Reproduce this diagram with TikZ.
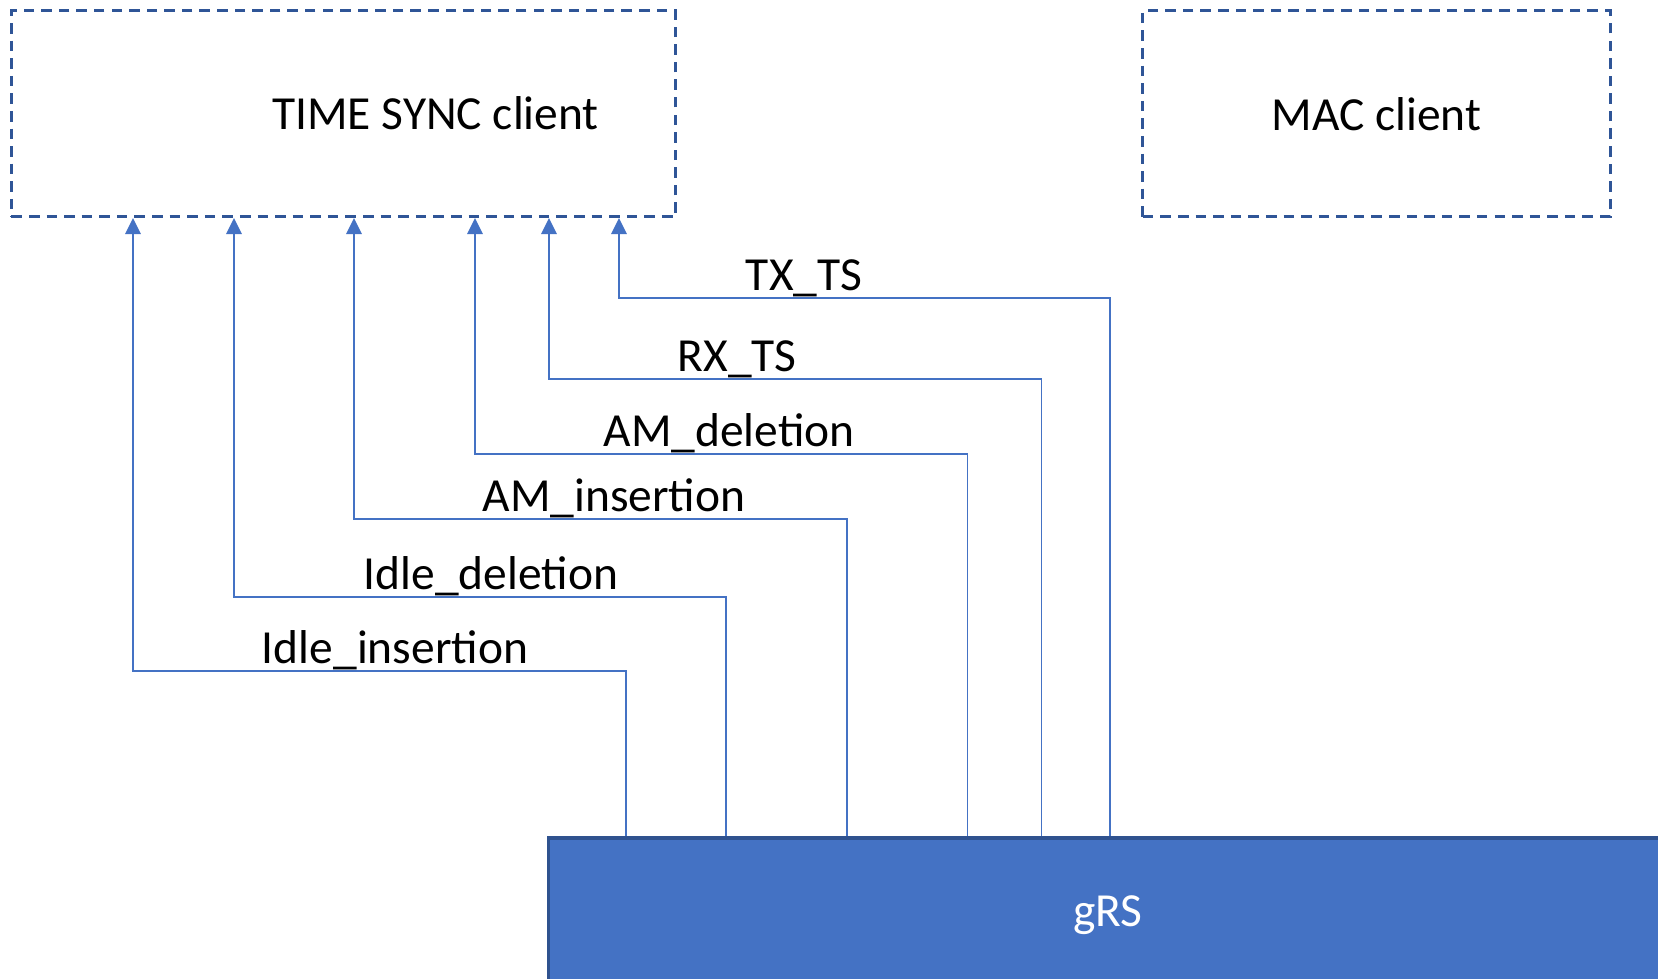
\documentclass[tikz,border=0pt]{standalone}
\usepackage{fontspec}
\setmainfont{Carlito}
\usetikzlibrary{arrows.meta}
\definecolor{lineblue}{HTML}{4472C4}
\definecolor{dashblue}{HTML}{2F5597}
\definecolor{edgeblue}{HTML}{2F528F}
\tikzset{
  client/.style={draw=dashblue, line width=0.8pt, dash pattern=on 3pt off 2pt,
    minimum height=2.06cm, inner sep=0pt},
  sig/.style={draw=lineblue, line width=0.5pt,
    -{Triangle[width=4.4pt,length=4.5pt]}},
  siglabel/.style={anchor=base, inner sep=0pt}
}
\begin{document}
\begin{tikzpicture}
    \def\x{0.01}
    \def\y{-0.01}
    \fontsize{13.5}{16}\selectfont
    \useasboundingbox (0,0) rectangle (1658*\x, 978*\y);
    % clients and gRS block
    \node (sync) [client, minimum width=6.64cm] at (343.6*\x, 113.7*\y) {};
    \node (synctext) at (435.6*\x, 113*\y) {TIME SYNC client};
    \node (mac) [client, minimum width=4.67cm] at (1376.5*\x, 113.7*\y) {MAC client};
    \node (grs) [fill=lineblue, draw=edgeblue, line width=1pt, text=white,
      minimum width=11.18cm, minimum height=1.54cm] at (1108*\x, 915*\y) {gRS};
    % corners of the signal paths
    \coordinate (K1) at (626*\x, 671*\y);
    \coordinate (C1) at (133*\x, 671*\y);
    \coordinate (K2) at (726*\x, 597*\y);
    \coordinate (C2) at (234*\x, 597*\y);
    \coordinate (K3) at (847*\x, 519*\y);
    \coordinate (C3) at (354*\x, 519*\y);
    \coordinate (K4) at (967.5*\x, 454*\y);
    \coordinate (C4) at (475*\x, 454*\y);
    \coordinate (K5) at (1041.5*\x, 379*\y);
    \coordinate (C5) at (549*\x, 379*\y);
    \coordinate (K6) at (1110*\x, 298*\y);
    \coordinate (C6) at (619*\x, 298*\y);
    \draw [sig] (K1 |- grs.north) -- (K1) -- (C1) -- (C1 |- sync.south);
    \draw [sig] (K2 |- grs.north) -- (K2) -- (C2) -- (C2 |- sync.south);
    \draw [sig] (K3 |- grs.north) -- (K3) -- (C3) -- (C3 |- sync.south);
    \draw [sig] (K4 |- grs.north) -- (K4) -- (C4) -- (C4 |- sync.south);
    \draw [sig] (K5 |- grs.north) -- (K5) -- (C5) -- (C5 |- sync.south);
    \draw [sig] (K6 |- grs.north) -- (K6) -- (C6) -- (C6 |- sync.south);
    % signal names
    \node (L1) [siglabel] at (395*\x, 663*\y) {Idle\_insertion};
    \node (L2) [siglabel] at (491*\x, 589*\y) {Idle\_deletion};
    \node (L3) [siglabel] at (614*\x, 511*\y) {AM\_insertion};
    \node (L4) [siglabel] at (729*\x, 446*\y) {AM\_deletion};
    \node (L5) [siglabel] at (737*\x, 371*\y) {RX\_TS};
    \node (L6) [siglabel] at (804*\x, 290*\y) {TX\_TS};
\end{tikzpicture}
\end{document}
